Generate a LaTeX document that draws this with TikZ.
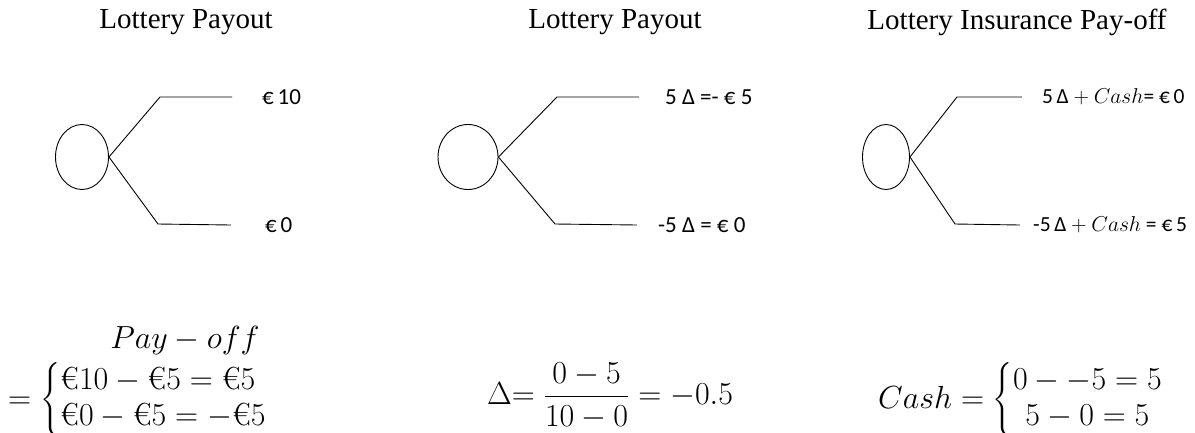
\documentclass[tikz,border=0pt]{standalone}
\usepackage{fix-cm}
\usepackage{amsmath}
\usepackage{fontspec}
\setmainfont{Liberation Serif}
\newfontfamily\calfont{Carlito}
\newfontfamily\lmrfont{Latin Modern Roman}
\newcommand{\eur}{\text{\lmrfont €}}
\usetikzlibrary{shapes.geometric}
\begin{document}
\begin{tikzpicture}[x=1pt,y=-1pt,
  title/.style={font=\fontsize{29}{33}\selectfont, inner sep=0pt},
  chance/.style={draw, ellipse, line width=0.9pt, inner sep=0pt},
  branch/.style={line width=0.9pt},
  lbl/.style={font=\calfont\fontsize{23}{27}\selectfont, anchor=west, inner sep=0pt},
  eq/.style={font=\fontsize{32}{36}\selectfont, inner sep=0pt}]
\useasboundingbox (0,0) rectangle (1195,432);

% Panel 1
\node[title] (t1) at (186,22) {Lottery Payout};
\node[chance, minimum width=53pt, minimum height=65pt] (c1) at (82,157) {};
\coordinate (u1) at (160,97);  \coordinate (u1e) at (232,97);
\coordinate (d1) at (158,224); \coordinate (d1e) at (231,225);
\draw[branch] (c1.east) -- (u1) -- (u1e);
\draw[branch] (c1.east) -- (d1) -- (d1e);
\node[lbl] (l1a) at (262,97) {€\,10};
\node[lbl] (l1b) at (265,225) {€\,0};

% Panel 2
\node[title] (t2) at (615,22) {Lottery Payout};
\node[chance, minimum width=60pt, minimum height=65pt] (c2) at (468,157) {};
\coordinate (u2) at (557,97);  \coordinate (u2e) at (639,97);
\coordinate (d2) at (555,224); \coordinate (d2e) at (637,225);
\draw[branch] (c2.east) -- (u2) -- (u2e);
\draw[branch] (c2.east) -- (d2) -- (d2e);
\node[lbl] (l2a) at (665,97) {5 Δ =- € 5};
\node[lbl] (l2b) at (658,225) {-5 Δ = € 0};

% Panel 3
\node[title] (t3) at (1017,22) {Lottery Insurance Pay-off};
\node[chance, minimum width=47pt, minimum height=65pt] (c3) at (886,157) {};
\coordinate (u3) at (957,97);  \coordinate (u3e) at (1022,97);
\coordinate (d3) at (955,224); \coordinate (d3e) at (1020,225);
\draw[branch] (c3.east) -- (u3) -- (u3e);
\draw[branch] (c3.east) -- (d3) -- (d3e);
\node[lbl, font=\calfont\fontsize{21.5}{25}\selectfont] (l3a) at (1042,97) {5\,Δ${}+Cash$= €\,0};
\node[lbl, font=\calfont\fontsize{21.5}{25}\selectfont] (l3b) at (1033,225) {-5\,Δ${}+Cash$ = €\,5};

% Bottom equations
\node[eq] (p1) at (185,340) {$Pay-off$};
\node[eq, anchor=west] (e1) at (8,400) {$=\left\{\begin{array}{@{}l@{}}\eur10-\eur5=\eur5\\ \eur0-\eur5=-\eur5\end{array}\right.$};
\node[eq, anchor=west] (e2) at (487,396) {$\Delta\mathord{=}\;\dfrac{0-5}{10-0}=-0.5$};
\node[eq, anchor=west] (e3) at (878,400) {$Cash=\left\{\begin{array}{@{}c@{}}0-{-5}=5\\ 5-0=5\end{array}\right.$};
\end{tikzpicture}
\end{document}
